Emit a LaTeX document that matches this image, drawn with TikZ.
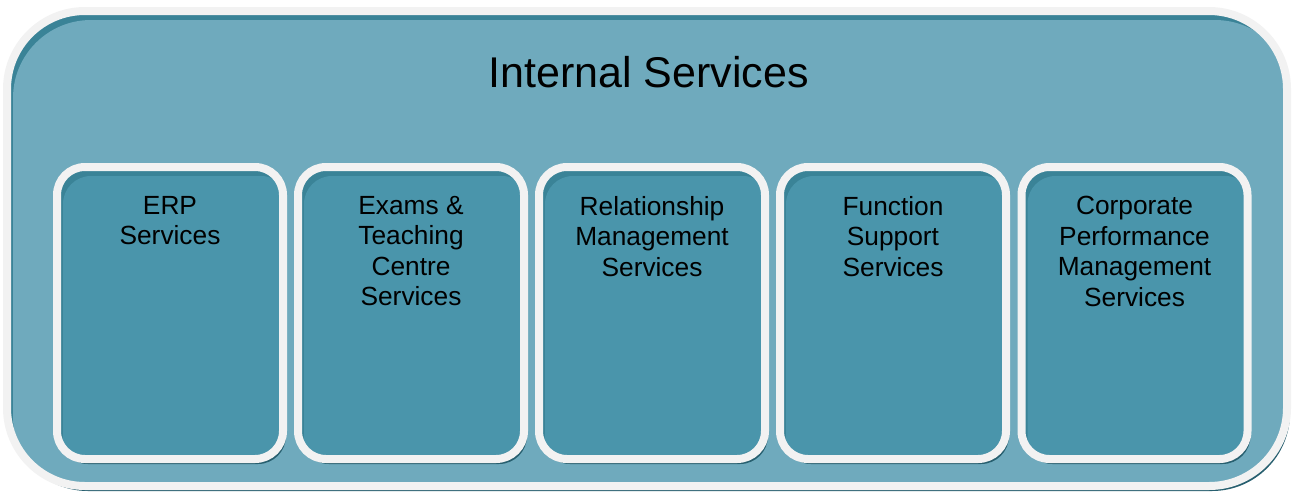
\documentclass[tikz,border=0pt]{standalone}
\usepackage{fontspec}
\setmainfont{Liberation Sans}
\usetikzlibrary{shadows}
\definecolor{outerfill}{HTML}{6FAABD}
\definecolor{boxfill}{HTML}{4A95AB}
\definecolor{innershade}{HTML}{3A8397}
\definecolor{shadowc}{HTML}{275F6F}
\definecolor{rimc}{HTML}{F2F2F2}
\tikzset{
  panel/.style={rectangle, draw=rimc, line width=8pt, inner sep=0pt,
    drop shadow={shadow xshift=3pt, shadow yshift=-5pt, fill=shadowc, opacity=1}},
  outerpanel/.style={panel, fill=outerfill, rounded corners=78pt,
    minimum width=1280pt, minimum height=475pt,
    path picture={
      \fill[innershade] ([shift={(-5pt,-5pt)}]path picture bounding box.south west) rectangle ([shift={(5pt,5pt)}]path picture bounding box.north east);
      \fill[outerfill, rounded corners=78pt] ([shift={(6pt,-9pt)}]path picture bounding box.south west) rectangle ([shift={(6pt,-9pt)}]path picture bounding box.north east);
    }},
  svcbox/.style={panel, fill=boxfill, rounded corners=28pt,
    minimum width=226pt, minimum height=292pt,
    path picture={
      \fill[innershade] ([shift={(-5pt,-5pt)}]path picture bounding box.south west) rectangle ([shift={(5pt,5pt)}]path picture bounding box.north east);
      \fill[boxfill, rounded corners=28pt] ([shift={(6pt,-9pt)}]path picture bounding box.south west) rectangle ([shift={(6pt,-9pt)}]path picture bounding box.north east);
    }},
  svclabel/.style={anchor=north, align=center, inner sep=0pt, text=black,
    font=\fontsize{26.3pt}{30.5pt}\selectfont},
  titlelabel/.style={anchor=base, inner sep=0pt, text=black,
    font=\fontsize{43pt}{50pt}\selectfont}
}
\begin{document}
\begin{tikzpicture}[x=1pt,y=-1pt]
\useasboundingbox (0,0) rectangle (1292,493);
\node[outerpanel] (outer) at (647,248.5) {};
\node[titlelabel] (title) at (648.5,87) {Internal Services};
\foreach \cx/\nm in {170/erp,411/exams,652/rel,893/func,1134.5/corp}{
  \node[svcbox] (\nm) at (\cx,313) {};
}
\node[svclabel] (erpt) at ([yshift=-33pt]erp.north) {ERP\\Services};
\node[svclabel] (examst) at ([yshift=-33pt]exams.north) {Exams \&\\Teaching\\Centre\\Services};
\node[svclabel] (relt) at ([yshift=-33pt]rel.north) {Relationship\\Management\\Services};
\node[svclabel] (funct) at ([yshift=-33pt]func.north) {Function\\Support\\Services};
\node[svclabel] (corpt) at ([yshift=-33pt]corp.north) {Corporate\\Performance\\Management\\Services};
\end{tikzpicture}
\end{document}
